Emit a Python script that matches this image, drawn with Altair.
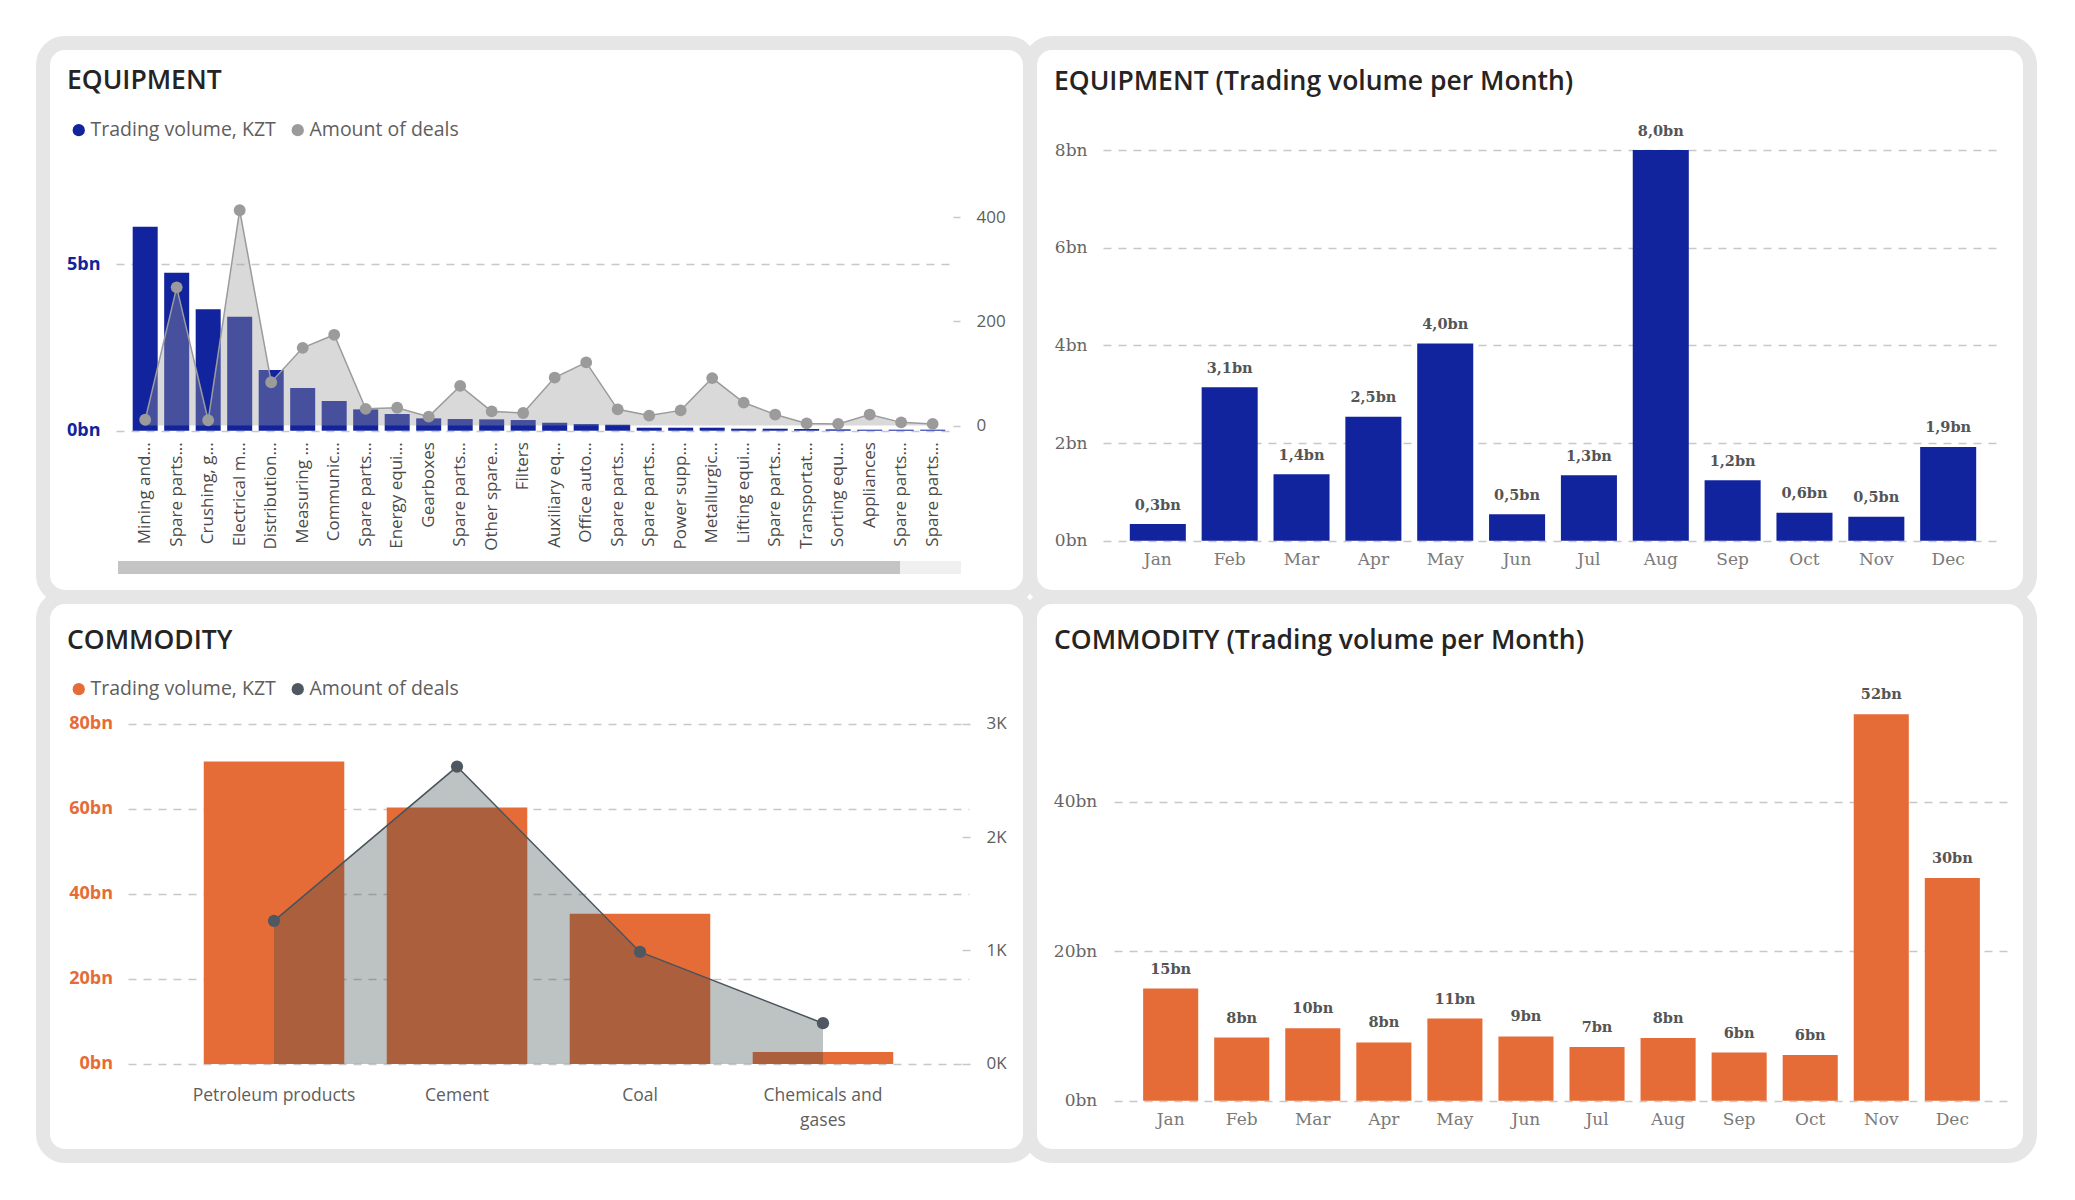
import json
import altair as alt
import pandas as pd

# ---------------- data ----------------
eq_cat_labels = ["Mining and...", "Spare parts...", "Crushing, g...", "Electrical m...", "Distribution...",
                 "Measuring ...", "Communic...", "Spare parts...", "Energy equi...", "Gearboxes",
                 "Spare parts...", "Other spare...", "Filters", "Auxiliary eq...", "Office auto...",
                 "Spare parts...", "Spare parts...", "Power supp...", "Metallurgic...", "Lifting equi...",
                 "Spare parts...", "Transportat...", "Sorting equ...", "Appliances", "Spare parts...",
                 "Spare parts..."]
eq_volume_bn = [6.12, 4.74, 3.64, 3.42, 1.82, 1.28, 0.89, 0.64, 0.50, 0.37, 0.35, 0.34, 0.32,
                0.24, 0.20, 0.18, 0.09, 0.09, 0.09, 0.06, 0.06, 0.05, 0.04, 0.03, 0.03, 0.03]
eq_deals = [11, 265, 10, 413, 83, 149, 174, 32, 34, 17, 76, 27, 24,
            92, 121, 31, 19, 29, 91, 44, 21, 4, 3, 21, 6, 3]

months = ["Jan", "Feb", "Mar", "Apr", "May", "Jun", "Jul", "Aug", "Sep", "Oct", "Nov", "Dec"]
eq_month_bn = [0.34, 3.14, 1.36, 2.54, 4.04, 0.54, 1.34, 8.0, 1.24, 0.57, 0.49, 1.92]

com_categories = ["Petroleum products", "Cement", "Coal", "Chemicals and gases"]
com_volume_bn = [71.1, 60.3, 35.3, 2.8]
com_deals = [1261, 2621, 987, 359]

com_month_bn = [15.0, 8.45, 9.7, 7.8, 11.0, 8.6, 7.2, 8.4, 6.45, 6.1, 51.7, 29.8]

# ---------------- style ----------------
NAVY = "#12239E"
ORANGE = "#E66C37"
GRAY_PT = "#9B9B9B"
SLATE = "#4F5861"
TITLE_C = "#252423"
TEXT_C = "#605E5C"
GRID_C = "#C8C8C8"
FRAME = "#E6E6E6"
SANS = "Open Sans"
SERIF = "DejaVu Serif"

SER_VOL = "Trading volume, KZT"
SER_DEALS = "Amount of deals"


def legend_params(x, y):
    return alt.Legend(orient="none", legendX=x, legendY=y, direction="horizontal", title=None,
                      symbolType="circle", symbolSize=150, symbolStrokeWidth=0, symbolOpacity=1,
                      labelFont=SANS, labelFontSize=19.5, labelColor=TEXT_C, labelLimit=400,
                      columnPadding=12, labelOffset=2)


def panel_title(text, y):
    return alt.TitleParams(text, anchor="start", frame="group", orient="top", font=SANS,
                           fontSize=26.5, fontWeight=600, color=TITLE_C, dx=24, offset=-y,
                           baseline="middle")


def grid_axis(values, expr, offset, font, size, color, weight="normal"):
    return alt.Axis(title=None, values=values, labelExpr=expr, grid=True, gridDash=[8, 7],
                    gridColor=GRID_C, gridWidth=1.5, ticks=False, domain=False,
                    labelFont=font, labelFontSize=size, labelFontWeight=weight,
                    labelColor=color, labelPadding=0, offset=offset)


def right_axis(values, expr, offset, tick):
    return alt.Axis(title=None, orient="right", values=values, labelExpr=expr, grid=False,
                    domain=False, ticks=True, tickSize=tick, tickColor=GRID_C, tickWidth=1.5,
                    labelPadding=16, labelFont=SANS, labelFontSize=17, labelColor=TEXT_C,
                    offset=offset)


# ---------------- EQUIPMENT (by category) ----------------
eq_df = pd.DataFrame({"idx": list(range(len(eq_cat_labels))), "volume": eq_volume_bn, "deals": eq_deals})
eq_label_expr = json.dumps(eq_cat_labels, ensure_ascii=False) + "[datum.value]"
eq_series = alt.Scale(domain=[SER_VOL, SER_DEALS], range=[NAVY, GRAY_PT])

eq_x = alt.X("idx:O",
             scale=alt.Scale(range=[73, 909], paddingInner=0.206, paddingOuter=0.373, align=0.71),
             axis=alt.Axis(title=None, labelExpr=eq_label_expr, labelAngle=270, ticks=False,
                           domain=False, labelFont=SANS, labelFontSize=17, labelColor="#4A4A4A",
                           labelPadding=11, offset=-166.3, labelLimit=200))
eq_base = alt.Chart(eq_df).encode(x=eq_x)
eq_vol_scale = alt.Scale(domain=[0, 5], range=[387.7, 221], nice=False)
eq_deal_scale = alt.Scale(domain=[0, 400], range=[382.5, 174], nice=False)

eq_bars = eq_base.transform_calculate(eq_series_name=f"'{SER_VOL}'").mark_bar().encode(
    y=alt.Y("volume:Q", scale=eq_vol_scale,
            axis=grid_axis([0, 5], "datum.value + 'bn'", -57, SANS, 18, NAVY, "bold")),
    color=alt.Color("eq_series_name:N", scale=eq_series, legend=legend_params(26, 77)))
eq_area = eq_base.mark_area(color="#9A9A9A", opacity=0.38).encode(
    y=alt.Y("deals:Q", scale=eq_deal_scale, axis=right_axis([0, 200, 400], "datum.value", -77, 7)))
eq_line = eq_base.mark_line(color=GRAY_PT, strokeWidth=1.5).encode(
    y=alt.Y("deals:Q", scale=eq_deal_scale, axis=None))
eq_pts = eq_base.transform_calculate(eq_series_name=f"'{SER_DEALS}'").mark_circle(size=140, opacity=1).encode(
    y=alt.Y("deals:Q", scale=eq_deal_scale, axis=None),
    color=alt.Color("eq_series_name:N", scale=eq_series, legend=legend_params(26, 77)))

sb_df = pd.DataFrame({"k": [0]})
scroll_track = alt.Chart(sb_df).mark_rect(color="#F0F0F0").encode(
    x=alt.value(857), x2=alt.value(918), y=alt.value(518), y2=alt.value(531))
scroll_thumb = alt.Chart(sb_df).mark_rect(color="#C4C4C4").encode(
    x=alt.value(75), x2=alt.value(857), y=alt.value(518), y2=alt.value(531))

TL = alt.layer(eq_bars, eq_area, eq_line, eq_pts, scroll_track, scroll_thumb).resolve_scale(
    y="independent").properties(width=987, height=554, title=panel_title("EQUIPMENT", 64))

# ---------------- EQUIPMENT (per month) ----------------
eqm_df = pd.DataFrame({"month": months, "value": eq_month_bn})
tr_base = alt.Chart(eqm_df).encode(
    x=alt.X("month:N", sort=months,
            scale=alt.Scale(range=[73, 973], paddingInner=0.22, paddingOuter=0.373),
            axis=alt.Axis(title=None, labelAngle=0, ticks=False, domain=False, labelFont=SERIF,
                          labelFontSize=17, labelColor="#7A7A7A", labelPadding=11, offset=-56.3)),
    y=alt.Y("value:Q", scale=alt.Scale(domain=[0, 8], range=[497.7, 107], nice=False),
            axis=grid_axis([0, 2, 4, 6, 8], "datum.value + 'bn'", -57, SERIF, 17, "#666666")))
tr_bars = tr_base.mark_bar(color=NAVY)
tr_text = tr_base.transform_calculate(
    lbl="replace(format(datum.value, '.1f'), '.', ',') + 'bn'").mark_text(
    dy=-18.5, font=SERIF, fontSize=14.5, fontWeight="bold", color="#555555").encode(text="lbl:N")
TR = alt.layer(tr_bars, tr_text).properties(
    width=1000, height=554, title=panel_title("EQUIPMENT (Trading volume per Month)", 65))

# ---------------- COMMODITY (by category) ----------------
com_df = pd.DataFrame({"category": com_categories, "volume": com_volume_bn, "deals": com_deals})
com_series = alt.Scale(domain=[SER_VOL, SER_DEALS], range=[ORANGE, SLATE])
bl_x = alt.X("category:N", sort=com_categories,
             scale=alt.Scale(range=[85, 926], paddingInner=0.232, paddingOuter=0.414),
             axis=alt.Axis(title=None, labelAngle=0,
                           labelExpr="datum.value == 'Chemicals and gases' ? ['Chemicals and', 'gases'] : datum.value",
                           ticks=False, domain=False, labelFont=SANS, labelFontSize=17.5,
                           labelColor=TEXT_C, labelPadding=23, labelLineHeight=25, offset=-92.1))
bl_base = alt.Chart(com_df).encode(x=bl_x)
com_vol_scale = alt.Scale(domain=[0, 80], range=[466.9, 126.6], nice=False)
com_deal_scale = alt.Scale(domain=[0, 3000], range=[466.9, 126.6], nice=False)

bl_bars = bl_base.transform_calculate(com_series_name=f"'{SER_VOL}'").mark_bar().encode(
    y=alt.Y("volume:Q", scale=com_vol_scale,
            axis=grid_axis([0, 20, 40, 60, 80], "datum.value + 'bn'", -69.5, SANS, 18, ORANGE, "bold")),
    color=alt.Color("com_series_name:N", scale=com_series, legend=legend_params(26, 82)))
bl_area = bl_base.mark_area(color="#374649", opacity=0.33).encode(
    y=alt.Y("deals:Q", scale=com_deal_scale,
            axis=right_axis([0, 1000, 2000, 3000], "(datum.value / 1000) + 'K'", -68, 8)))
bl_line = bl_base.mark_line(color="#4A535C", strokeWidth=1.5).encode(
    y=alt.Y("deals:Q", scale=com_deal_scale, axis=None))
bl_pts = bl_base.transform_calculate(com_series_name=f"'{SER_DEALS}'").mark_circle(size=150, opacity=1).encode(
    y=alt.Y("deals:Q", scale=com_deal_scale, axis=None),
    color=alt.Color("com_series_name:N", scale=com_series, legend=legend_params(26, 82)))
BL = alt.layer(bl_bars, bl_area, bl_line, bl_pts).resolve_scale(y="independent").properties(
    width=987, height=559, title=panel_title("COMMODITY", 70))

# ---------------- COMMODITY (per month) ----------------
comm_df = pd.DataFrame({"month": months, "value": com_month_bn})
br_base = alt.Chart(comm_df).encode(
    x=alt.X("month:N", sort=months,
            scale=alt.Scale(range=[84, 979], paddingInner=0.225, paddingOuter=0.41),
            axis=alt.Axis(title=None, labelAngle=0, ticks=False, domain=False, labelFont=SERIF,
                          labelFontSize=17, labelColor="#7A7A7A", labelPadding=11, offset=-55.3)),
    y=alt.Y("value:Q", scale=alt.Scale(domain=[0, 40], range=[503.7, 204.8], nice=False),
            axis=grid_axis([0, 20, 40], "datum.value + 'bn'", -66.8, SERIF, 17, "#666666")))
br_bars = br_base.mark_bar(color=ORANGE)
br_text = br_base.transform_calculate(lbl="format(datum.value, '.0f') + 'bn'").mark_text(
    dy=-19, font=SERIF, fontSize=14.5, fontWeight="bold", color="#555555").encode(text="lbl:N")
BR = alt.layer(br_bars, br_text).properties(
    width=1000, height=559, title=panel_title("COMMODITY (Trading volume per Month)", 70))

chart = alt.concat(TL, TR, BL, BR, columns=2, spacing=0, bounds="flush", align="each").resolve_scale(
    color="independent").resolve_legend(color="independent").properties(
    padding={"left": 28, "top": 28, "right": 28, "bottom": 28}, background="white"
).configure_view(fill="white", stroke=FRAME, strokeWidth=14, cornerRadius=22)

chart.save("out.html", embed_options={"renderer": "svg", "actions": False})
